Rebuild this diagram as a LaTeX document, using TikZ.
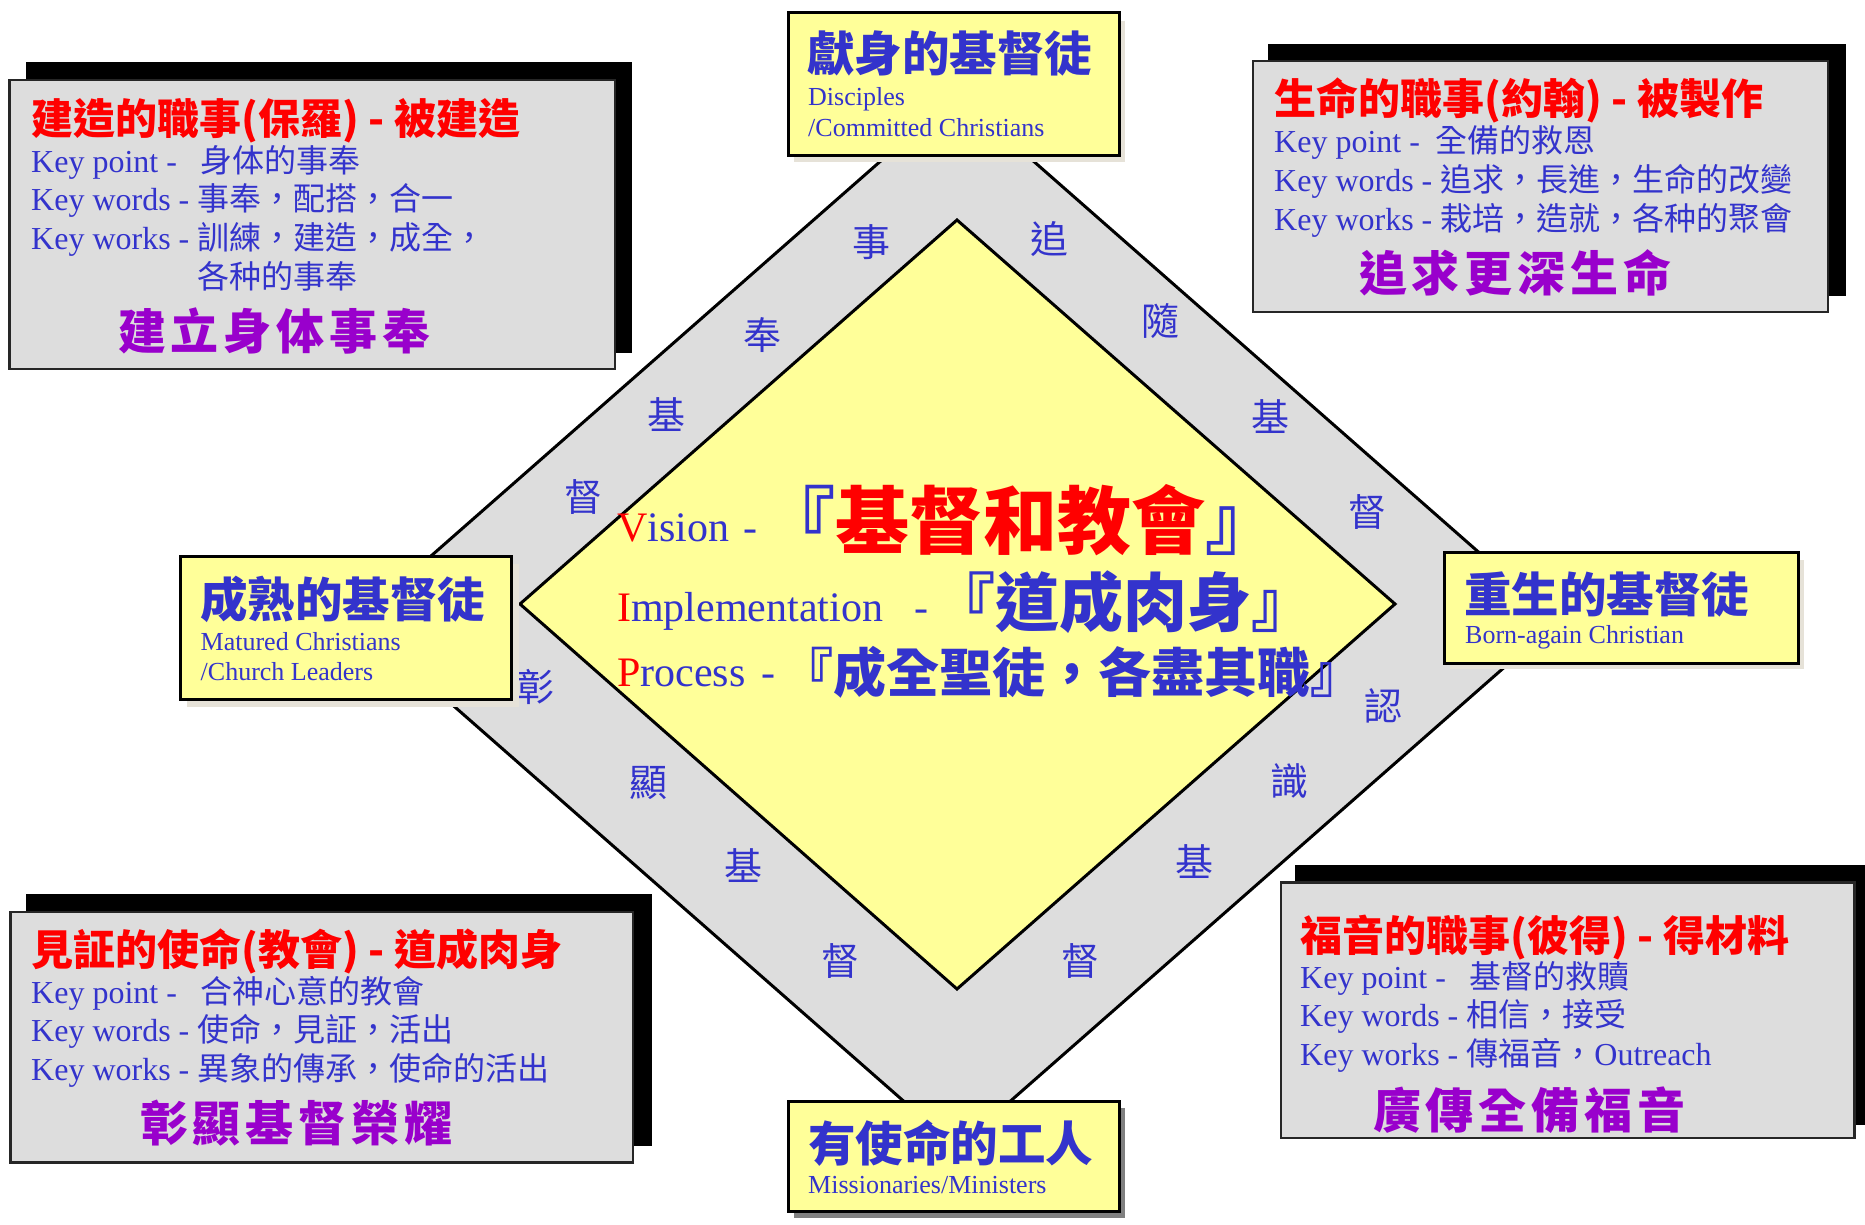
\documentclass[tikz,border=0pt]{standalone}
\usepackage{fontspec}
\setmainfont{Liberation Serif}
\newfontfamily\cjk{Noto Sans CJK TC}
\newfontfamily\cjkls{Noto Sans CJK TC}[LetterSpace=10]
\newcommand\zh[1]{{\cjk #1}}
\definecolor{tred}{HTML}{FF0000}
\definecolor{tblue}{HTML}{3333CC}
\definecolor{tpurple}{HTML}{9900CC}
\definecolor{tyellow}{HTML}{FFFF99}
\definecolor{tgrey}{HTML}{DDDDDD}
\definecolor{tshadow}{HTML}{E6E2D8}
\definecolor{tshadowdark}{HTML}{808080}
\tikzset{
  head/.style={anchor=base west, inner sep=0pt, text=tred, font=\cjk\bfseries\fontsize{42}{42}\selectfont},
  body/.style={anchor=base west, inner sep=0pt, text=tblue, font=\fontsize{32}{32}\selectfont},
  motto/.style={anchor=base west, inner sep=0pt, text=tpurple, font=\cjkls\bfseries\fontsize{48}{48}\selectfont},
  ytitle/.style={anchor=base west, inner sep=0pt, text=tblue, font=\cjk\bfseries\fontsize{47.5}{47.5}\selectfont},
  ysub/.style={anchor=base west, inner sep=0pt, text=tblue, font=\fontsize{26}{26}\selectfont},
  ctr/.style={anchor=base west, inner sep=0pt, text=tblue, font=\fontsize{42}{42}\selectfont},
  quote/.style={anchor=base west, inner sep=0pt, text=tblue},
  bandch/.style={inner sep=0pt, text=tblue, font=\cjk\fontsize{38}{38}\selectfont, text height=28.9pt, text depth=0pt},
  ybox/.style={draw=black, line width=3pt, fill=tyellow},
  gbox/.style={draw=black!85, line width=2.5pt, fill=tgrey},
  dia/.style={draw=black, line width=3pt, line join=miter},
}
\begin{document}
\begin{tikzpicture}[x=1pt,y=-1pt]
\useasboundingbox[fill=white] (0,0) rectangle (1865,1225);

% diamonds
\draw[dia, fill=tgrey] (957,94) -- (1557,621) -- (957,1148) -- (357,621) -- cycle;
\draw[dia, fill=tyellow] (957,220) -- (1395,604) -- (957,989) -- (520,604) -- cycle;

% centre text
\node[ctr] (vis) at (617,541.7) {\textcolor{tred}{V}ision\hspace{14pt}-};
\node[ctr] (imp) at (617,621.7) {\textcolor{tred}{I}mplementation\hspace{31pt}-};
\node[ctr] (pro) at (617,686.7) {\textcolor{tred}{P}rocess\hspace{16pt}-};
\node[quote, font=\cjk\bfseries\fontsize{74}{74}\selectfont] (q1) at (761.5,548.6)
  {『\textcolor{tred}{基督和教會}』};
\node[quote, font=\cjk\bfseries\fontsize{64}{64}\selectfont] (q2) at (931.5,626.8) {『道成肉身』};
\node[quote, font=\cjk\bfseries\fontsize{53}{53}\selectfont] (q3) at (780.5,692.6) {『成全聖徒，各盡其職』};

% band characters
\node[bandch] (b1) at (871,242) {事};
\node[bandch] (b2) at (762,335) {奉};
\node[bandch] (b3) at (666,415) {基};
\node[bandch] (b4) at (583,497) {督};
\node[bandch] (b5) at (1049,239) {追};
\node[bandch] (b6) at (1160,321) {隨};
\node[bandch] (b7) at (1270,417) {基};
\node[bandch] (b8) at (1367,512) {督};
\node[bandch] (b9) at (1383,706) {認};
\node[bandch] (b10) at (1289,781) {識};
\node[bandch] (b11) at (1194,862) {基};
\node[bandch] (b12) at (1080,961) {督};
\node[bandch] (b13) at (535,687) {彰};
\node[bandch] (b14) at (648,782) {顯};
\node[bandch] (b15) at (743,866) {基};
\node[bandch] (b16) at (840,961) {督};

% yellow boxes
\fill[tshadow] (794,21) rectangle (1125,162);
\draw[ybox] (788,13) rectangle (1119,155.5);
\node[ytitle] (tt) at (807,72) {獻身的基督徒};
\node[ysub] (ts1) at (808,106) {Disciples};
\node[ysub] (ts2) at (808,137) {/Committed Christians};

\fill[tshadow] (187,564) rectangle (518.5,707);
\draw[ybox] (180,556) rectangle (511.5,699);
\node[ytitle] (lt) at (200,617) {成熟的基督徒};
\node[ysub] (ls1) at (200.5,650) {Matured Christians};
\node[ysub] (ls2) at (200.5,680) {/Church Leaders};

\fill[tshadow] (1450,560) rectangle (1804,669);
\draw[ybox] (1444,552) rectangle (1798,663);
\node[ytitle] (rt) at (1464,612) {重生的基督徒};
\node[ysub] (rs1) at (1465,643) {Born-again Christian};

\fill[tshadowdark] (794,1108) rectangle (1125,1218);
\draw[ybox] (788,1101) rectangle (1119,1211.5);
\node[ytitle] (bt) at (808,1161) {有使命的工人};
\node[ysub] (bs1) at (808,1193) {Missionaries/Ministers};

% grey info boxes
\fill[black] (26,62) rectangle (632,353);
\draw[gbox] (9.5,80) rectangle (615,369);
\node[head] (tlh) at (31,135) {建造的職事(保羅) - 被建造};
\node[body] (tl1) at (31,172.5) {Key point -~~~\zh{身体的事奉}};
\node[body] (tl2) at (31,211) {Key words - \zh{事奉，配搭，合一}};
\node[body] (tl3) at (31,249.5) {Key works - \zh{訓練，建造，成全，}};
\node[body] (tl4) at (197,288) {\zh{各种的事奉}};
\node[motto] (tlm) at (118,349) {建立身体事奉};

\fill[black] (1268,44) rectangle (1846,296);
\draw[gbox] (1253,61) rectangle (1828,312);
\node[head] (trh) at (1274,115) {生命的職事(約翰) - 被製作};
\node[body] (tr1) at (1274,153) {Key point -~~\zh{全備的救恩}};
\node[body] (tr2) at (1274,191.5) {Key words - \zh{追求，長進，生命的改變}};
\node[body] (tr3) at (1274,230) {Key works - \zh{栽培，造就，各种的聚會}};
\node[motto] (trm) at (1359,291) {追求更深生命};

\fill[black] (25.5,894) rectangle (652,1146);
\draw[gbox] (10.5,912) rectangle (633,1162.5);
\node[head] (blh) at (31,965) {見証的使命(教會) - 道成肉身};
\node[body] (bl1) at (31,1003) {Key point -~~~\zh{合神心意的教會}};
\node[body] (bl2) at (31,1041.5) {Key words - \zh{使命，見証，活出}};
\node[body] (bl3) at (31,1080) {Key works - \zh{異象的傳承，使命的活出}};
\node[motto] (blm) at (140,1141) {彰顯基督榮耀};

\fill[black] (1295,864.5) rectangle (1865,1125);
\draw[gbox] (1281,882.5) rectangle (1854.5,1138);
\node[head] (brh) at (1300,951) {福音的職事(彼得) - 得材料};
\node[body] (br1) at (1300,988) {Key point -~~~\zh{基督的救贖}};
\node[body] (br2) at (1300,1026.5) {Key words - \zh{相信，接受}};
\node[body] (br3) at (1300,1065) {Key works - \zh{傳福音，}Outreach};
\node[motto] (brm) at (1373,1128) {廣傳全備福音};
\end{tikzpicture}
\end{document}
